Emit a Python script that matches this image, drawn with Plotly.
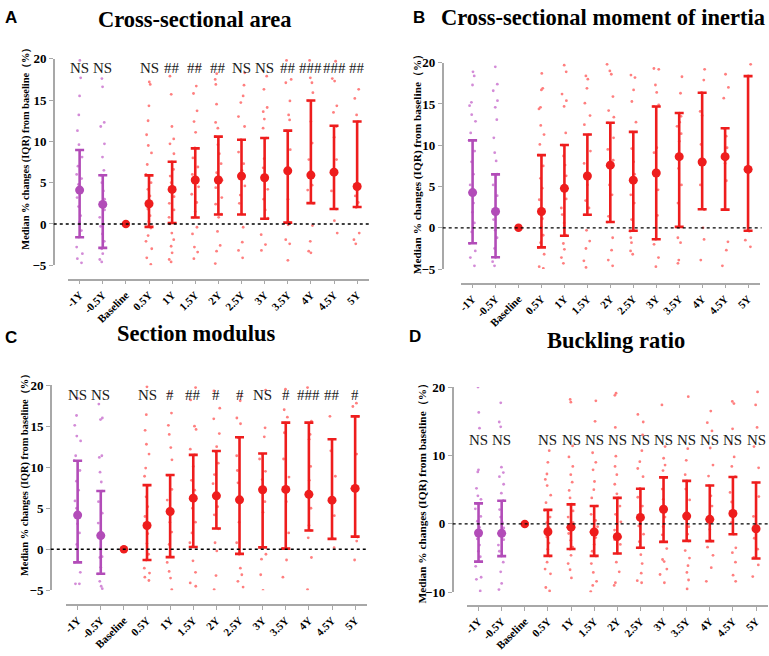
import plotly.graph_objects as go

W, H = 769, 656

categories = ["-1Y", "-0.5Y", "Baseline", "0.5Y", "1Y", "1.5Y", "2Y", "2.5Y",
              "3Y", "3.5Y", "4Y", "4.5Y", "5Y"]

# ---------------- Panel A: Cross-sectional area ----------------
a_median = [4.1, 2.37, 0, 2.45, 4.18, 5.33, 5.33, 5.8, 5.6, 6.43, 5.92, 6.27, 4.54]
a_q1 = [-1.6, -2.9, 0, -0.35, 0.12, 0.79, 1.14, 1.14, 0.63, 0.16, 2.52, 1.81, 2.05]
a_q3 = [8.95, 5.9, 0, 5.88, 7.53, 9.15, 10.57, 10.2, 10.4, 11.3, 14.95, 11.9, 12.4]
a_sig = ["NS", "NS", "", "NS", "##", "##", "##", "NS", "NS", "##", "###", "###", "##"]
a_points = [
    [19.8, 17.7, 15.5, 13.2, 11.3, 9.6, 8.1, 7.0, 6.0, 5.5, 4.8, 4.1, 3.2, 2.1, 1.0, 0.2, -0.8, -1.6, -2.8, -3.6, -4.2, -4.7],
    [17.6, 16.6, 12.3, 11.8, 9.7, 8.1, 6.5, 5.9, 5.0, 4.0, 3.0, 2.4, 1.7, 0.8, -0.3, -1.2, -2.1, -3.0, -3.6, -4.3, -4.6],
    [],
    [17.2, 16.9, 14.3, 12.5, 10.8, 9.5, 8.6, 7.2, 6.0, 5.0, 4.2, 3.4, 2.5, 1.8, 1.0, 0.3, -0.5, -1.4, -2.1, -3.0, -4.1, -4.9],
    [17.9, 15.7, 11.8, 10.3, 9.7, 8.5, 7.5, 6.6, 5.8, 5.0, 4.2, 3.3, 2.5, 1.7, 0.8, 0.0, -1.1, -1.9, -2.7, -3.5, -4.3, -4.6],
    [19.0, 16.7, 15.8, 13.7, 12.4, 11.1, 9.2, 8.0, 6.9, 6.0, 5.3, 4.5, 3.6, 2.6, 1.5, 0.8, -0.4, -1.2, -2.8, -3.4, -4.2],
    [18.2, 17.5, 16.9, 14.5, 12.3, 11.6, 10.6, 9.6, 8.5, 7.3, 6.2, 5.3, 4.4, 3.2, 2.4, 1.2, 0.8, -0.9, -2.6, -3.3, -4.8],
    [18.3, 16.8, 15.5, 14.7, 13.0, 11.8, 10.2, 8.7, 7.3, 6.5, 5.7, 4.6, 3.5, 2.5, 1.2, -0.4, -2.2, -3.2, -4.1],
    [17.9, 16.3, 14.1, 13.6, 12.7, 11.6, 10.4, 7.9, 6.8, 5.6, 4.2, 3.0, 1.7, 0.7, -1.3, -2.5, -3.2],
    [19.8, 17.5, 17.1, 14.9, 13.2, 12.6, 11.3, 9.0, 6.4, 3.0, 0.2, -0.1, -1.9, -2.4, -4.4],
    [19.8, 17.7, 17.1, 15.9, 14.9, 12.4, 9.8, 7.8, 5.9, 4.7, 4.1, 2.5, -0.2, -2.1, -3.3, -3.5],
    [19.7, 17.6, 17.3, 14.3, 13.5, 11.8, 10.5, 7.8, 6.2, 4.0, 1.8, 0.4, -1.1],
    [16.3, 15.2, 13.2, 12.4, 4.5, 3.4, 2.6, 2.0, -1.1, -1.9, -2.4],
]

# ---------------- Panel B: Cross-sectional moment of inertia ----------------
b_median = [4.27, 1.98, 0, 1.98, 4.78, 6.28, 7.59, 5.77, 6.64, 8.62, 7.98, 8.62, 7.08]
b_q1 = [-1.86, -3.56, 0, -2.37, -0.95, 1.58, 0.71, -0.36, -1.38, 0.12, 2.25, 2.21, -0.36]
b_q3 = [10.59, 6.48, 0, 8.81, 10.04, 11.3, 12.73, 11.62, 14.7, 13.91, 16.36, 12.06, 18.38]
b_sig = ["NS", "NS", "", "NS", "#", "#", "#", "NS", "NS", "#", "###", "###", "#"]
b_points = [
    [18.9, 18.4, 17.3, 15.2, 14.8, 13.7, 12.9, 11.5, 10.6, 9.3, 8.0, 6.5, 5.2, 4.3, 3.0, 1.9, 0.6, -0.5, -1.9, -2.8, -3.6, -4.6],
    [19.5, 17.4, 16.6, 15.4, 14.6, 13.1, 10.9, 9.1, 8.1, 6.5, 5.2, 3.9, 2.0, 1.0, -0.3, -1.2, -2.5, -3.6, -4.1, -4.6],
    [],
    [18.7, 16.9, 16.7, 14.6, 14.4, 12.4, 11.3, 10.1, 8.8, 7.5, 6.0, 4.8, 3.4, 2.0, 1.1, 0.1, -0.9, -1.8, -2.4, -3.2, -4.7, -4.9],
    [19.7, 18.9, 16.2, 15.4, 14.7, 11.5, 10.0, 8.7, 7.6, 6.3, 4.8, 3.5, 2.4, 1.6, 0.6, -0.9, -1.9, -2.6, -3.6, -4.3],
    [18.4, 18.0, 16.9, 15.1, 13.6, 12.5, 11.3, 9.3, 7.8, 6.3, 5.2, 3.3, 2.4, 1.6, -0.3, -1.6, -2.5, -4.0, -4.8],
    [19.8, 19.0, 18.6, 15.9, 14.2, 13.4, 12.7, 10.9, 9.5, 8.2, 7.6, 5.2, 4.0, 1.4, 0.7, -1.2, -2.7, -3.9, -4.6],
    [18.5, 18.2, 16.7, 15.3, 12.8, 11.6, 9.6, 8.0, 6.5, 5.8, 4.0, 3.0, 1.0, -0.4, -1.2, -1.8, -2.8, -3.2],
    [19.3, 19.2, 17.3, 16.4, 14.9, 14.7, 9.7, 9.1, 6.6, 4.6, 1.5, -1.4, -2.0, -3.6, -4.7],
    [18.3, 16.3, 13.9, 13.5, 12.8, 12.3, 11.4, 10.5, 8.6, 7.2, 5.2, 3.0, 0.1, -1.2, -1.8, -3.9, -4.3],
    [19.2, 17.9, 16.4, 14.1, 13.6, 10.1, 8.0, 5.2, 2.2, 0.0, -1.4, -3.9],
    [18.6, 17.0, 15.7, 12.0, 11.1, 9.7, 8.6, 7.8, 5.7, 2.2, -1.7, -2.7, -4.6],
    [19.8, 18.4, 7.1, -0.4, -1.5, -2.3],
]

# ---------------- Panel C: Section modulus ----------------
c_median = [4.17, 1.67, 0, 2.9, 4.6, 6.23, 6.51, 6.03, 7.26, 7.3, 6.7, 5.99, 7.42]
c_q1 = [-1.59, -2.98, 0, -1.31, -0.95, 0.28, 2.54, -0.56, 0.24, 0.08, 2.3, 1.27, 1.55]
c_q3 = [10.79, 7.1, 0, 7.82, 9.05, 11.5, 11.98, 13.65, 11.67, 15.44, 15.44, 13.41, 16.19]
c_sig = ["NS", "NS", "", "NS", "#", "##", "#", "#", "NS", "#", "###", "##", "#"]
c_points = [
    [18.4, 16.3, 15.1, 13.8, 13.2, 11.4, 10.8, 9.6, 8.3, 7.2, 5.9, 5.0, 4.2, 3.1, 2.0, 0.6, -1.6, -2.8, -4.2, -4.2],
    [17.7, 16.0, 15.8, 11.4, 11.2, 9.4, 8.2, 7.1, 5.8, 4.4, 3.2, 1.7, 0.1, -0.9, -1.0, -2.2, -3.0, -3.9, -4.5, -4.8],
    [],
    [19.8, 16.4, 14.5, 12.8, 11.6, 9.9, 8.9, 7.8, 6.4, 5.2, 4.0, 2.9, 1.9, 0.7, -0.6, -1.3, -2.3, -2.9, -3.4, -3.8],
    [19.0, 16.6, 15.1, 14.0, 12.4, 10.9, 9.0, 7.3, 6.0, 4.6, 3.3, 2.1, 0.6, -0.9, -1.6, -2.7, -3.5, -4.9],
    [19.7, 18.2, 15.0, 14.6, 12.2, 11.5, 10.1, 8.4, 7.2, 6.2, 5.0, 3.3, 2.0, 0.8, 0.3, -1.4, -2.8, -4.1, -4.5],
    [19.3, 17.2, 15.9, 14.1, 12.5, 11.9, 10.5, 9.1, 8.0, 6.5, 5.2, 4.2, 2.5, 0.8, -0.2, -3.2, -4.9],
    [18.7, 18.1, 16.0, 15.3, 13.6, 11.4, 9.6, 8.1, 6.0, 3.3, 0.8, -0.6, -2.3, -3.1, -3.9, -4.6],
    [19.4, 14.8, 13.7, 11.6, 11.0, 9.5, 8.5, 7.3, 5.8, 4.5, 0.2, -0.6, -1.2, -3.1, -5.0],
    [19.5, 17.0, 16.1, 15.4, 14.2, 11.0, 8.8, 7.3, 5.8, 2.0, 0.1, -1.3, -3.4],
    [19.7, 15.6, 14.0, 13.4, 10.1, 8.4, 6.7, 5.0, 2.9, 2.3, 1.4, -1.0, -4.9],
    [16.2, 13.4, 12.0, 8.9, 6.0, 4.1, 1.3, 0.2],
    [17.8, 17.4, 16.2, 11.6, 7.4, 1.5, 1.0, -1.3],
]

# ---------------- Panel D: Buckling ratio ----------------
d_median = [-1.33, -1.38, 0, -1.14, -0.48, -1.19, -1.86, 0.95, 2.14, 1.14, 0.67, 1.52, -0.71]
d_q1 = [-5.52, -4.71, 0, -4.67, -3.67, -4.67, -4.33, -3.48, -2.62, -2.48, -2.52, -1.52, -5.05]
d_q3 = [3.0, 3.38, 0, 2.05, 2.86, 2.62, 3.81, 5.14, 6.81, 6.29, 5.62, 6.86, 6.05]
d_sig = ["NS", "NS", "", "NS", "NS", "NS", "NS", "NS", "NS", "NS", "NS", "NS", "NS"]
d_points = [
    [20.0, 16.3, 14.0, 7.9, 7.6, 5.2, 4.1, 3.6, 3.0, 2.2, 1.1, 0.4, -0.5, -1.3, -2.2, -3.1, -4.0, -4.8, -5.5, -6.2, -7.8, -8.1, -9.8],
    [17.7, 14.9, 14.2, 8.3, 7.5, 6.9, 5.8, 4.5, 3.4, 2.1, 1.0, 0.2, -0.6, -1.4, -2.3, -3.1, -4.0, -4.7, -5.6, -7.0, -8.7, -9.6],
    [],
    [10.7, 9.0, 7.3, 6.5, 5.6, 4.2, 3.1, 2.0, 1.0, 0.2, -0.5, -1.1, -1.9, -2.8, -3.7, -4.7, -5.6, -6.6, -7.3, -9.3, -9.8],
    [18.2, 17.8, 11.4, 9.8, 8.4, 7.2, 6.1, 4.9, 3.8, 2.9, 1.9, 1.0, 0.2, -0.5, -1.4, -2.4, -3.4, -3.7, -4.6, -5.8, -6.7, -7.9],
    [18.0, 15.0, 10.4, 9.0, 7.9, 6.2, 5.0, 3.8, 2.6, 1.4, 0.5, -0.4, -1.2, -2.0, -3.0, -4.0, -4.7, -5.8, -7.1, -8.4, -9.0, -9.9],
    [19.1, 18.8, 14.1, 9.9, 8.4, 7.2, 5.8, 4.4, 3.8, 2.6, 1.4, 0.3, -0.9, -1.9, -2.3, -3.0, -4.3, -5.6, -7.0, -8.6, -9.0],
    [16.0, 14.9, 13.0, 10.7, 9.1, 8.1, 6.9, 5.2, 3.9, 2.6, 1.0, -0.3, -1.5, -2.6, -3.5, -4.5, -5.8, -7.2, -8.3, -8.6],
    [17.4, 11.3, 9.6, 8.6, 7.8, 6.8, 5.1, 3.6, 2.1, 1.0, -0.4, -1.6, -2.6, -3.6, -5.2, -5.5, -6.6, -7.4, -8.6],
    [18.6, 11.0, 9.3, 7.2, 6.3, 5.1, 3.5, 1.1, -0.4, -1.5, -2.5, -3.9, -5.0, -6.1, -7.1, -8.2, -9.5],
    [16.5, 14.8, 13.6, 11.1, 8.6, 7.0, 5.6, 4.1, 2.6, 0.7, -0.8, -2.5, -3.4, -4.6, -6.4, -8.4],
    [17.9, 17.6, 13.9, 11.7, 9.8, 8.4, 6.9, 4.6, 3.2, 1.6, 0.2, -1.5, -3.5, -4.2, -5.6, -7.5, -8.4],
    [19.3, 17.4, 14.1, 11.3, 8.2, 6.0, 4.0, 1.1, -0.7, -2.1, -3.7, -4.9, -6.0, -7.7],
]

titles = ["Cross-sectional area", "Cross-sectional moment of inertia",
          "Section modulus", "Buckling ratio"]
letters = ["A", "B", "C", "D"]
y_title = "Median % changes (IQR) from baseline\uff08%\uff09"

# ---------------- styling / layout geometry (pixels) ----------------
PURPLE = "#B24CB8"
RED = "#EE1D1D"
PURPLE_DOT = "rgba(200,110,205,0.8)"
RED_DOT = "rgba(255,95,95,0.8)"
AXIS_GREY = "#A8A8A8"
SERIF = "Liberation Serif, Times New Roman, serif"
SANS = "Liberation Sans, Arial, sans-serif"

geoms = [
    dict(yax=50, ytop=53, ybot=264.3, vtop=20, vbot=-5, xl=64.4, xr=366.6, xay=279,
         sig_y=18.9, ticks=[-5, 0, 5, 10, 15, 20], tx=192, ty=13, lx=7, ly=11,
         ytx=22, yty=142, ytsize=10.4),
    dict(yax=441, ytop=57, ybot=268.25, vtop=20, vbot=-5, xl=459.5, xr=759.5, xay=283,
         sig_y=21.1, ticks=[-5, 0, 5, 10, 15, 20], tx=602, ty=11, lx=417, ly=11,
         ytx=416, yty=158, ytsize=11.3),
    dict(yax=47, ytop=387, ybot=597, vtop=20, vbot=-5, xl=62.4, xr=364.6, xay=612,
         sig_y=18.8, ticks=[-5, 0, 5, 10, 15, 20], tx=193, ty=334, lx=7, ly=338,
         ytx=21, yty=476, ytsize=10.4),
    dict(yax=451, ytop=389, ybot=599, vtop=20, vbot=-10, xl=465.4, xr=767.6, xay=613,
         sig_y=12.2, ticks=[-10, 0, 10, 20], tx=615, ty=341, lx=413, ly=337,
         ytx=421, yty=495, ytsize=11.3),
]

panels = [
    (a_median, a_q1, a_q3, a_sig, a_points),
    (b_median, b_q1, b_q3, b_sig, b_points),
    (c_median, c_q1, c_q3, c_sig, c_points),
    (d_median, d_q1, d_q3, d_sig, d_points),
]

fig = go.Figure()
layout = dict(width=W, height=H, margin=dict(l=0, r=0, t=0, b=0),
              paper_bgcolor="white", plot_bgcolor="white", showlegend=False)
annotations = []
shapes = []


def px_x(p):
    return p / W


def px_y(p):
    return 1 - p / H


for i, (med, q1, q3, sig, pts) in enumerate(panels):
    g = geoms[i]
    n = i + 1
    xa = "x" if n == 1 else f"x{n}"
    ya = "y" if n == 1 else f"y{n}"
    xkey = "xaxis" if n == 1 else f"xaxis{n}"
    ykey = "yaxis" if n == 1 else f"yaxis{n}"

    # raw points (jittered by plotly's box point layout)
    for idxs, col in (([0, 1], PURPLE_DOT), (list(range(3, 13)), RED_DOT)):
        xs, ys = [], []
        for k in idxs:
            xs += [categories[k]] * len(pts[k])
            ys += pts[k]
        fig.add_trace(go.Box(x=xs, y=ys, xaxis=xa, yaxis=ya, boxpoints="all",
                             jitter=0.45, pointpos=0, width=0.7,
                             marker=dict(size=2.8, color=col),
                             line=dict(width=0), fillcolor="rgba(0,0,0,0)",
                             hoverinfo="skip"))

    # medians with IQR
    for idxs, col in (([0, 1], PURPLE), (list(range(3, 13)), RED)):
        fig.add_trace(go.Scatter(
            x=[categories[k] for k in idxs], y=[med[k] for k in idxs],
            xaxis=xa, yaxis=ya, mode="markers",
            marker=dict(size=9, color=col),
            error_y=dict(type="data", symmetric=False,
                         array=[q3[k] - med[k] for k in idxs],
                         arrayminus=[med[k] - q1[k] for k in idxs],
                         color=col, thickness=2.6, width=4.5),
            hoverinfo="skip"))
    fig.add_trace(go.Scatter(x=[categories[2]], y=[med[2]], xaxis=xa, yaxis=ya,
                             mode="markers", marker=dict(size=8.5, color=RED),
                             hoverinfo="skip"))

    layout[xkey] = dict(domain=[px_x(g["xl"]), px_x(g["xr"])], anchor="free",
                        position=px_y(g["xay"]), type="category",
                        categoryorder="array", categoryarray=categories,
                        range=[-0.5, 12.5], showgrid=False, zeroline=False,
                        showline=True, linecolor=AXIS_GREY, linewidth=1.5,
                        ticks="outside", ticklen=4, tickcolor=AXIS_GREY, tickwidth=1.2,
                        tickangle=-45,
                        tickfont=dict(family=SERIF, size=11, color="black", weight="bold"))
    layout[ykey] = dict(domain=[px_y(g["ybot"]), px_y(g["ytop"])], anchor="free",
                        position=px_x(g["yax"]), range=[g["vbot"], g["vtop"]],
                        tickvals=g["ticks"], showgrid=False, zeroline=False,
                        showline=True, linecolor=AXIS_GREY, linewidth=1.5,
                        ticks="outside", ticklen=4, tickcolor=AXIS_GREY, tickwidth=1.2,
                        tickfont=dict(family=SERIF, size=13, color="black", weight="bold"))

    # dotted zero line
    shapes.append(dict(type="line", xref="paper", yref=ya,
                       x0=px_x(g["yax"]), x1=px_x(g["xr"] + 2), y0=0, y1=0,
                       line=dict(color="black", width=1.4, dash="dot")))

    # significance labels
    for k, s in enumerate(sig):
        if s:
            annotations.append(dict(x=k, y=g["sig_y"], xref=xa, yref=ya, text=s,
                                    showarrow=False,
                                    font=dict(family=SERIF, size=15, color="#1a1a1a")))

    # titles
    annotations.append(dict(x=px_x(g["tx"]), y=px_y(g["ty"]), xref="paper", yref="paper",
                            text=titles[i], showarrow=False, xanchor="center", yanchor="middle",
                            font=dict(family=SERIF, size=22.5, color="black", weight="bold")))
    annotations.append(dict(x=px_x(g["lx"]), y=px_y(g["ly"]), xref="paper", yref="paper",
                            text=letters[i], showarrow=False, xanchor="center", yanchor="middle",
                            font=dict(family=SANS, size=17, color="black", weight="bold")))
    annotations.append(dict(x=px_x(g["ytx"]), y=px_y(g["yty"]), xref="paper", yref="paper",
                            text=y_title, showarrow=False, textangle=-90,
                            xanchor="center", yanchor="middle",
                            font=dict(family=SERIF, size=g["ytsize"], color="black", weight="bold")))

layout["annotations"] = annotations
layout["shapes"] = shapes
layout["boxmode"] = "overlay"
fig.update_layout(**layout)
fig.write_html("out.html", config={"displayModeBar": False},
               post_script="document.body.style.margin='0px';document.body.style.overflow='hidden';")
